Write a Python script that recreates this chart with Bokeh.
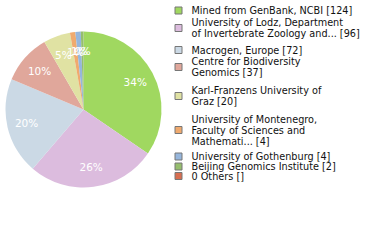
import math
from bokeh.plotting import figure
from bokeh.models import Range1d, ColumnDataSource
from bokeh.core.properties import value
from bokeh.embed import file_html
from bokeh.resources import INLINE

# ---- data ----
names = [
    "Mined from GenBank, NCBI",
    "University of Lodz, Department\nof Invertebrate Zoology and...",
    "Macrogen, Europe",
    "Centre for Biodiversity\nGenomics",
    "Karl-Franzens University of\nGraz",
    "University of Montenegro,\nFaculty of Sciences and\nMathemati...",
    "University of Gothenburg",
    "Beijing Genomics Institute",
    "0 Others",
]
counts = [124, 96, 72, 37, 20, 4, 4, 2, None]
colors = ["#a0d860", "#dcbcde", "#cbd9e5", "#e0a79b", "#e0e2a3",
          "#f0aa6e", "#96b6dc", "#96be6e", "#d76e50"]

# ---- layout (pixels) ----
W, H = 380, 240
CX, CY, R = 83, 109, 78
LABEL_R = 58.5
LEG_SW_X = 178
LEG_TXT_X = 191
LEG_CENTERS = [10, 27.5, 49.5, 66.5, 95.5, 129.5, 156, 166, 175.5]
LINE_H = 11
FONT = "DejaVu Sans"

def Y(py):
    return H - py

p = figure(width=W, height=H, output_backend="svg", toolbar_location=None,
           x_range=Range1d(0, W), y_range=Range1d(0, H),
           min_border=0, min_border_left=0, min_border_right=0,
           min_border_top=0, min_border_bottom=0)
p.axis.visible = False
p.grid.visible = False
p.outline_line_color = None
p.background_fill_color = "white"
p.border_fill_color = "white"

vals = [c if c else 0 for c in counts]
total = float(sum(vals))

starts, ends, wcols, lx, ly, ltxt = [], [], [], [], [], []
cum = 0.0
for v, col in zip(vals, colors):
    if v <= 0:
        continue
    a0 = cum / total
    a1 = (cum + v) / total
    starts.append(math.pi / 2 - a0 * 2 * math.pi)
    ends.append(math.pi / 2 - a1 * 2 * math.pi)
    wcols.append(col)
    mid = (a0 + a1) / 2 * 2 * math.pi
    lx.append(CX + LABEL_R * math.sin(mid))
    ly.append(Y(CY - LABEL_R * math.cos(mid)))
    ltxt.append("%d%%" % int(v / total * 100))
    cum += v

src = ColumnDataSource(dict(s=starts, e=ends, c=wcols))
p.wedge(x=CX, y=Y(CY), radius=R, start_angle="s", end_angle="e",
        direction="clock", fill_color="c", line_color=None, source=src)

p.text(x=lx, y=ly, text=ltxt, text_color="white", text_font=value(FONT),
       text_font_size="10.5px", text_align="center", text_baseline="middle")

# legend
tx, ty, tt = [], [], []
sx, sy, sc = [], [], []
for name, cnt, col, yc in zip(names, counts, colors, LEG_CENTERS):
    label = name + " [" + ("" if cnt is None else str(cnt)) + "]"
    lines = label.split("\n")
    n = len(lines)
    for i, ln in enumerate(lines):
        tx.append(LEG_TXT_X)
        ty.append(Y(yc + (i - (n - 1) / 2) * LINE_H))
        tt.append(ln)
    sx.append(LEG_SW_X)
    sy.append(Y(yc))
    sc.append(col)

p.rect(x=sx, y=sy, width=7, height=7, fill_color=sc, line_color="#777777",
       line_width=1)
p.text(x=tx, y=ty, text=tt, text_color="#111111", text_font=value(FONT),
       text_font_size="9.7px", text_align="left", text_baseline="middle")

open("out.html", "w").write(file_html(p, INLINE))
